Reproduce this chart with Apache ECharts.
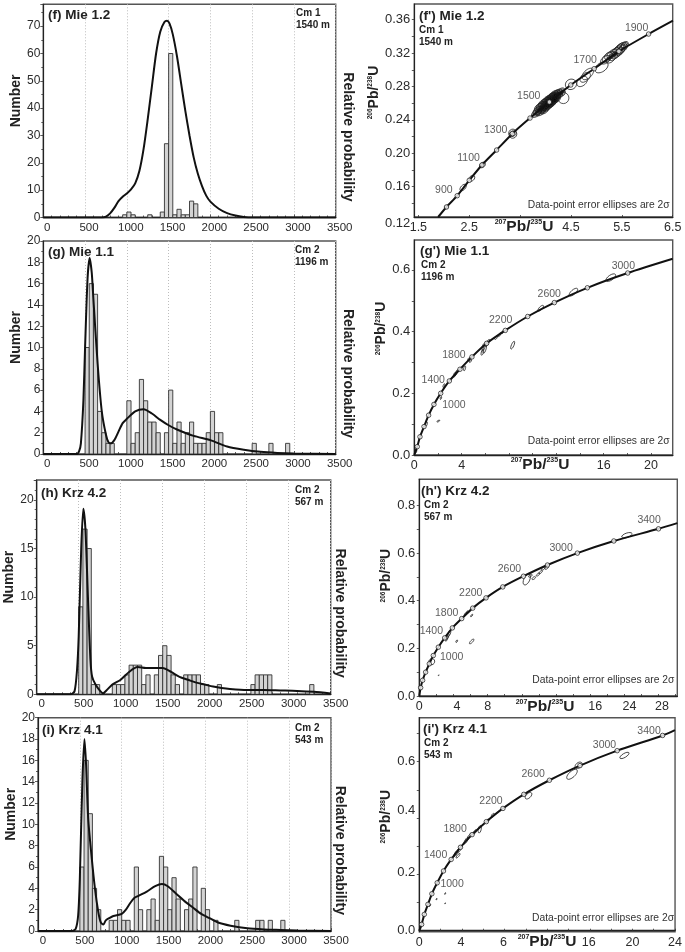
<!DOCTYPE html>
<html><head><meta charset="utf-8">
<style>html,body{margin:0;padding:0;background:#fff}#c{width:685px;height:952px}</style>
<script src="https://cdn.jsdelivr.net/npm/echarts@6/dist/echarts.min.js"></script>
</head><body><div id="c"></div>
<script>
// ---------- histogram bins (Ma, left edge) and counts ----------
const binWidth=50;
const fBins=[950,1000,1050,1250,1400,1450,1500,1550,1600,1650,1700,1750,1800];
const fCounts=[1,2,1,1,2,27,60,1,3,1,1,6,5];
const gBins=[500,550,600,650,700,750,800,1000,1050,1100,1150,1200,1250,1300,1350,1450,1500,1550,1600,1650,1700,1750,1800,1850,1900,1950,2000,2050,2100,2500,2700,2900];
const gCounts=[10,16,15,4,2,1,1,5,1,2,7,5,3,3,2,2,6,1,3,1,2,3,1,1,1,2,4,2,2,1,1,1];
const hBins=[500,550,600,650,700,900,950,1000,1050,1100,1150,1200,1250,1300,1400,1450,1500,1550,1600,1650,1750,1800,1850,1900,1950,2000,2150,2550,2600,2650,2700,2750,3250];
const hCounts=[9,17,15,1,1,1,1,1,2,3,3,3,1,2,2,4,5,4,2,1,2,2,2,2,1,1,1,1,2,2,2,2,1];
const iBins=[500,550,600,650,700,850,900,950,1000,1050,1150,1200,1300,1350,1400,1450,1500,1550,1600,1650,1750,1800,1850,1950,2000,2100,2350,2600,2650,2750,2900];
const iCounts=[6,16,11,4,2,1,1,2,1,1,6,2,2,3,1,7,6,2,5,3,2,3,6,4,2,1,1,1,1,1,1];
// ---------- probability curves [age, scaled height] ----------
const fCurve=[[0,0],[700,0],[750,.3],[800,1.5],[850,3.5],[900,6],[950,7.6],[1000,8.8],[1050,10.3],[1100,12.5],[1150,17],[1200,25],[1250,36],[1300,48],[1350,60],[1400,68],[1450,71.5],[1480,72],[1510,71],[1550,67],[1600,59],[1650,49],[1700,39],[1750,30],[1800,22],[1850,16],[1900,11.5],[1950,8],[2000,5.8],[2100,3.2],[2200,1.6],[2300,.7],[2400,.2],[2500,0],[3500,0]];
const gCurve=[[0,0],[400,0],[430,.3],[450,1],[480,5],[500,10],[530,16.5],[555,18.4],[580,17],[600,14.5],[650,8.5],[700,4],[750,1.8],[780,1.1],[810,1],[850,1.3],[900,2.1],[950,2.9],[1000,3.3],[1100,4],[1200,4.2],[1300,3.8],[1400,3.2],[1500,2.7],[1600,2.3],[1800,1.7],[2000,1.3],[2200,.7],[2400,.4],[2600,.2],[2800,.1],[3000,.05],[3500,0]];
const hCurve=[[0,0],[400,0],[450,.3],[480,2.5],[500,6],[530,15],[555,19.1],[580,17],[610,10],[640,3.5],[660,1.8],[700,1],[750,.4],[790,.1],[830,.4],[900,1],[1000,1.5],[1100,2.3],[1200,2.8],[1300,2.7],[1400,2.7],[1500,2.7],[1600,2.3],[1700,1.8],[1800,1.5],[1900,1.2],[2000,1],[2100,.8],[2200,.65],[2300,.55],[2500,.45],[2700,.45],[2900,.4],[3100,.35],[3300,.25],[3500,.08]];
const iCurve=[[0,0],[400,0],[450,.2],[480,1.5],[500,5],[530,14],[555,18],[575,15.5],[600,10.5],[640,7],[680,4],[720,1.8],[750,.8],[780,.6],[810,1],[850,1.2],[900,1.4],[1000,1.6],[1050,2],[1100,2.6],[1150,3.1],[1200,3.3],[1300,3.7],[1400,4.2],[1480,4.4],[1550,4.2],[1650,3.5],[1750,2.8],[1850,2.2],[1950,1.6],[2050,1.2],[2150,.8],[2300,.5],[2500,.25],[2700,.15],[2900,.1],[3100,.05],[3500,0]];
// ---------- concordia curves [207Pb/235U, 206Pb/238U]; inner points are the age ticks ----------
const fConc=[[1.889,.1237],[2.053,.1357],[2.264,.1492],[2.5,.1676],[2.75,.186],[3.038,.2039],[3.347,.2235],[3.695,.2422],[4.076,.2614],[4.496,.2818],[4.956,.3013],[5.442,.3221],[6.026,.3428],[6.505,.3588]];
const gConc=[[0,0],[.25,.027],[.48,.059],[.82,.092],[1.21,.129],[1.66,.164],[2.23,.2],[2.96,.24],[3.86,.278],[4.87,.318],[6.11,.362],[7.69,.404],[9.58,.449],[11.83,.494],[14.62,.542],[18.03,.59],[21.83,.636]];
const hConc=[[0,0],[.16,.035],[.39,.066],[.74,.1],[1.17,.135],[1.64,.17],[2.23,.205],[2.97,.244],[3.87,.286],[4.96,.325],[6.25,.369],[7.81,.412],[9.77,.458],[12.19,.503],[15,.55],[18.5,.6],[22.77,.651],[28,.702],[30.2,.726]];
const iConc=[[0,0],[.22,.0225],[.47,.058],[.81,.0935],[1.18,.131],[1.68,.17],[2.27,.212],[2.99,.253],[3.86,.296],[4.95,.341],[6.29,.387],[7.85,.434],[9.81,.484],[12.21,.534],[15.08,.586],[18.57,.639],[22.83,.693],[23.99,.712]];
// ---------- error ellipses [x, y, major semi-axis dx, dy, minor/major] ----------
const fCluster=[[3.82,.248,.09,.004,.55],[3.85,.251,.09,.004,.6],[3.88,.255,.09,.004,.6],[3.9,.25,.09,.004,.6],[3.92,.257,.09,.004,.6],[3.94,.253,.09,.004,.6],[3.95,.26,.08,.004,.6],[3.97,.256,.09,.004,.6],[3.98,.252,.08,.004,.6],[4,.262,.08,.004,.6],[4.01,.258,.09,.004,.6],[4.02,.255,.08,.004,.6],[4.03,.264,.08,.004,.6],[4.05,.26,.09,.004,.6],[4.06,.257,.08,.004,.6],[4.07,.265,.08,.004,.6],[4.08,.262,.09,.004,.6],[4.09,.259,.08,.004,.6],[4.1,.267,.08,.004,.6],[4.11,.263,.09,.004,.6],[4.12,.26,.08,.004,.6],[4.13,.268,.08,.004,.6],[4.14,.265,.09,.004,.6],[4.15,.262,.08,.004,.6],[4.16,.27,.08,.004,.6],[4.17,.266,.09,.004,.6],[4.18,.264,.08,.004,.6],[4.2,.271,.08,.004,.6],[4.21,.268,.08,.004,.6],[4.22,.265,.07,.0035,.6],[4.24,.272,.08,.004,.6],[4.26,.269,.07,.0035,.6],[4.3,.274,.07,.0035,.6],[4.33,.272,.05,.003,.7]];
const fEll=[[2.05,.1357,.03,.0016,.7],[2.38,.159,.055,.0035,.55],[2.55,.17,.05,.0028,.7],[2.76,.186,.05,.0026,.7],[3.35,.2245,.06,.003,.9],[3.36,.2225,.06,.003,.9],
[4.35,.2662,.11,.0,1],[4.5,.2826,.1,.003,.9],[4.72,.286,.09,.005,.65],[4.78,.291,.09,.005,.6],[4.83,.295,.1,.006,.55],[5.1,.303,.12,.005,.6],
[5.18,.312,.09,.004,.6],[5.22,.315,.09,.005,.55],[5.26,.317,.09,.004,.6],[5.28,.313,.08,.004,.6],[5.31,.319,.09,.005,.55],[5.33,.316,.08,.004,.6],[5.36,.321,.09,.005,.5],[5.38,.318,.08,.004,.6],[5.4,.323,.09,.005,.5],[5.42,.32,.08,.004,.6],[5.44,.325,.09,.005,.5],[5.46,.322,.08,.004,.6],[5.47,.327,.08,.004,.6],[5.49,.324,.08,.005,.5],[5.5,.328,.08,.004,.6],[5.52,.326,.08,.004,.6],[5.54,.328,.07,.004,.6],[5.56,.33,.06,.003,.7]];
const gEll=[[16.6,.575,.39,.0103,.45],[13.44,.528,.34,.0113,.42],[10.68,.476,.22,.0086,.4],[8.31,.356,.14,.0125,.3],[5.75,.333,.07,.0095,.35],[5.95,.345,.1,.015,.3],[5.85,.35,.08,.012,.35],[6.1,.36,.1,.008,.5],[6.25,.368,.12,.006,.5],[6.9,.38,.1,.005,.5],[7.2,.39,.1,.006,.4],[7.45,.398,.1,.004,.5],[4.25,.281,.05,.008,.35],[4.6,.31,.08,.006,.4],[4.75,.305,.08,.005,.4],[3.4,.26,.08,.008,.35],[3.5,.264,.07,.007,.35],[3.6,.27,.07,.007,.35],[2.03,.11,.12,.0025,.4],[2.25,.185,.04,.005,.4],[2.5,.225,.06,.006,.35],[1.0,.1,.07,.008,.4],[.1,.012,.05,.006,.6]];
const hEll=[[12.58,.489,.3,.022,.5],[24.3,.675,.6,.0075,.4],[6.13,.229,.25,.0095,.35],[4.38,.23,.08,.005,.5],[6.13,.338,.12,.005,.4],[13,.505,.2,.005,.5],[13.4,.495,.2,.005,.5],[13.9,.51,.2,.006,.4],[14.2,.52,.2,.006,.4],[14.5,.535,.2,.005,.5],[14.9,.538,.2,.005,.5],[3.3,.25,.15,.012,.35],[3.5,.262,.15,.012,.35],[3.2,.24,.12,.01,.35],[5.4,.345,.12,.006,.35],[5.6,.352,.1,.006,.35],[1.45,.144,.22,.011,.9],[2.27,.087,.04,.002,.4]];
const iEll=[[14.33,.555,.46,.016,.45],[14.95,.587,.3,.009,.65],[19.25,.622,.42,.0095,.38],[10.25,.479,.28,.01,.55],[5.67,.36,.07,.013,.4],[3.64,.266,.18,.008,.3],[3.45,.275,.2,.012,.3],[3.8,.29,.2,.012,.3],[4.4,.32,.2,.012,.3],[4.7,.335,.18,.01,.3],[5.2,.35,.15,.008,.4],[6.4,.39,.12,.006,.5],[6.9,.41,.12,.006,.5],[1.62,.112,.03,.003,.4],[2.43,.132,.04,.003,.4],[2.43,.097,.03,.002,.4],[1.0,.09,.06,.004,.4]];
// ---------- age annotations [x, y, label] ----------
const fAges=[[2.0,.1557,'900'],[2.487,.194,'1100'],[3.02,.2275,'1300'],[3.67,.269,'1500'],[4.78,.312,'1700'],[5.79,.35,'1900']];
const gAges=[[3.35,.162,'1000'],[1.6,.243,'1400'],[3.35,.324,'1800'],[7.3,.437,'2200'],[11.4,.523,'2600'],[17.66,.613,'3000']];
const hAges=[[3.79,.165,'1000'],[1.41,.272,'1400'],[3.2,.346,'1800'],[6.02,.43,'2200'],[10.55,.531,'2600'],[16.6,.619,'3000'],[26.9,.74,'3400']];
const iAges=[[3.08,.166,'1000'],[1.53,.267,'1400'],[3.36,.36,'1800'],[6.73,.46,'2200'],[10.69,.557,'2600'],[17.38,.659,'3000'],[21.56,.71,'3400']];
// ---------- tick labels on the concordia panels (positions follow the reference's irregular placing) ----------
const gxTicks=[0,4,16,20], gxLabels=['0','4','16','20'];
const hxTicks=[0,4.4,8,20.6,24.6,28.4], hxLabels=['0','4','8','16','24','28'];
const ixTicks=[0,3.9,7.9,15.9,20,24], ixLabels=['0','4','6','16','20','24'];
const iyTicks=[0,.206,.427,.6], iyLabels=['0.0','0.2','0.4','0.6'];

const FONT='"Liberation Sans",Arial,sans-serif', INK='#2b2b2b';
const grids=[],xAxes=[],yAxes=[],series=[],titles=[];

function addTitle(text,left,top,size){titles.push({text,left,top,padding:0,itemGap:0,textStyle:{fontFamily:FONT,fontSize:size,fontWeight:'bold',color:'#222',lineHeight:Math.round(size*1.2)}});}

function barItem(params,api){
  const a=api.coord([api.value(0),api.value(1)]);
  const b=api.coord([api.value(0)+binWidth,0]);
  return {type:'rect',shape:{x:a[0],y:a[1],width:b[0]-a[0],height:b[1]-a[1]},style:{fill:'#d3d3d3',stroke:'#333',lineWidth:.9}};
}

function histPanel(o){
  const gi=grids.length;
  grids.push({left:o.x0,top:o.y0,width:o.x1-o.x0,height:o.y1-o.y0,show:true,borderColor:'#555',borderWidth:1.4,backgroundColor:'#fff',containLabel:false});
  const xv=xAxes.length;
  xAxes.push({gridIndex:gi,type:'value',min:0,max:3500,interval:500,position:'bottom',
    axisLine:{show:true,lineStyle:{color:'#222',width:1.4}},
    axisTick:{show:true,inside:true,length:3,lineStyle:{color:'#333',width:.8}},
    minorTick:{show:true,splitNumber:5,length:2,lineStyle:{color:'#333',width:.8}},
    splitLine:{show:true,lineStyle:{type:[1,2],color:'#bdbdbd',width:1}},
    axisLabel:{fontFamily:FONT,fontSize:11.5,color:INK,margin:4,padding:[0,0,0,o.pad],formatter:v=>String(v),hideOverlap:false,showMinLabel:true,showMaxLabel:true}});
  const yl=yAxes.length;
  yAxes.push({gridIndex:gi,type:'value',min:0,max:o.ymax,interval:o.yint,position:'left',
    name:'Number',nameLocation:'middle',nameGap:o.nameGap,nameRotate:90,
    nameTextStyle:{fontFamily:FONT,fontSize:14,fontWeight:'bold',color:'#222',padding:[0,0,0,20]},
    axisLine:{show:true,lineStyle:{color:'#222',width:1.2}},
    axisTick:{show:true,length:3,lineStyle:{color:'#333',width:.8}},
    minorTick:{show:true,splitNumber:o.yminor,length:2,lineStyle:{color:'#333',width:.8}},
    splitLine:{show:false},
    axisLabel:{fontFamily:FONT,fontSize:12,color:INK,margin:3,showMaxLabel:o.topLabel,hideOverlap:false}});
  const yr=yAxes.length;
  yAxes.push({gridIndex:gi,type:'value',min:0,max:o.ymax,position:'right',
    name:'Relative probability',nameLocation:'middle',nameGap:o.rGap,nameRotate:-90,
    nameTextStyle:{fontFamily:FONT,fontSize:14,fontWeight:'bold',color:'#222',padding:[0,0,0,52]},
    axisLine:{show:false},axisTick:{show:false},axisLabel:{show:false},splitLine:{show:false}});
  series.push({type:'custom',xAxisIndex:xv,yAxisIndex:yl,data:o.bins.map((b,k)=>[b,o.counts[k]]),renderItem:barItem,silent:true,animation:false,clip:true,z:3,encode:{x:0,y:1}});
  series.push({type:'line',xAxisIndex:xv,yAxisIndex:yl,data:o.curve,smooth:.25,showSymbol:false,symbol:'none',silent:true,animation:false,z:5,
    lineStyle:{color:'#111',width:2}});
  addTitle(o.title,o.tx,o.ty,13.5);
  addTitle('Cm '+o.cm,o.cx,o.cy,10);
  addTitle(o.depth,o.cx,o.cy+12,10);
}

function ellipseItem(fill){
  return function(params,api){
    const c=api.coord([api.value(0),api.value(1)]);
    const s=api.size([api.value(2),api.value(3)]);
    const a=Math.hypot(s[0],s[1]);
    return {type:'ellipse',x:c[0],y:c[1],rotation:Math.atan2(s[1],s[0]),
      shape:{cx:0,cy:0,rx:a,ry:a*api.value(4)},
      style:{fill,stroke:'#222',lineWidth:.75}};
  };
}

function concPanel(o){
  const gi=grids.length;
  grids.push({left:o.x0,top:o.y0,width:o.x1-o.x0,height:o.y1-o.y0,show:true,borderColor:'#555',borderWidth:1.4,backgroundColor:'#fff'});
  const xi=xAxes.length,yi=yAxes.length;
  const xLab=o.xLabels?(v=>{const k=o.xTicks.indexOf(v);return k<0?'':o.xLabels[k];}):(v=>String(v));
  xAxes.push({gridIndex:gi,type:'value',min:o.xmin,max:o.xmax,position:'bottom',
    axisLine:{show:true,lineStyle:{color:'#222',width:1.4}},
    axisTick:{show:true,inside:true,length:2,customValues:o.xTickMarks,lineStyle:{color:'#333',width:.8}},
    splitLine:{show:false},
    axisLabel:{fontFamily:FONT,fontSize:12.5,color:INK,margin:4,customValues:o.xTicks,formatter:xLab,hideOverlap:false,showMinLabel:true,showMaxLabel:true}});
  const yLab=o.yLabels?(v=>{const k=o.yTicks.indexOf(v);return k<0?'':o.yLabels[k];}):(v=>v.toFixed(o.yDec));
  yAxes.push({gridIndex:gi,type:'value',min:o.ymin,max:o.ymax,position:'left',
    name:'{s|206}{b|Pb/}{s|238}{b|U}',nameLocation:'middle',nameGap:o.nameGap,nameRotate:90,
    nameTextStyle:{padding:[0,0,0,o.namePad],rich:{b:{fontFamily:FONT,fontSize:14,fontWeight:'bold',color:'#222'},s:{fontFamily:FONT,fontSize:6.5,fontWeight:'bold',color:'#222',verticalAlign:'top'}}},
    axisLine:{show:true,lineStyle:{color:'#222',width:1.2}},
    axisTick:{show:true,length:2.5,customValues:o.yTickMarks,lineStyle:{color:'#333',width:.8}},
    splitLine:{show:false},
    axisLabel:{fontFamily:FONT,fontSize:13,color:INK,margin:4,customValues:o.yTicks,formatter:yLab,hideOverlap:false,showMinLabel:true,showMaxLabel:true,verticalAlignMinLabel:o.yMinAlign}});
  if(o.cluster)series.push({type:'custom',xAxisIndex:xi,yAxisIndex:yi,data:o.cluster,renderItem:ellipseItem('rgba(0,0,0,0.3)'),silent:true,animation:false,clip:true,z:3,encode:{x:0,y:1}});
  series.push({type:'custom',xAxisIndex:xi,yAxisIndex:yi,data:o.ell,renderItem:ellipseItem('none'),silent:true,animation:false,clip:true,z:3,encode:{x:0,y:1}});
  series.push({type:'line',xAxisIndex:xi,yAxisIndex:yi,data:o.conc,smooth:.25,symbol:'none',showSymbol:false,silent:true,animation:false,clip:true,z:4,lineStyle:{color:'#111',width:2}});
  series.push({type:'scatter',xAxisIndex:xi,yAxisIndex:yi,data:o.conc.slice(1,-1),symbol:'circle',symbolSize:4.5,silent:true,animation:false,z:6,itemStyle:{color:'#fff',borderColor:'#111',borderWidth:.9}});
  series.push({type:'scatter',xAxisIndex:xi,yAxisIndex:yi,data:o.ages,symbolSize:0,silent:true,animation:false,z:7,
    label:{show:true,position:'inside',formatter:p=>p.value[2],fontFamily:FONT,fontSize:10.5,color:'#333'}});
  addTitle(o.title,o.tx,o.ty,13.5);
  addTitle('Cm '+o.cm,o.cx,o.cy,10);
  addTitle(o.depth,o.cx,o.cy+12,10);
  titles.push({text:'Data-point error ellipses are 2σ',right:685-o.x1+o.noteRight,top:o.noteY,padding:0,textStyle:{fontFamily:FONT,fontSize:10.3,fontWeight:'normal',color:'#333'}});
  titles.push({text:'{s|207}{b|Pb/}{s|235}{b|U}',left:o.nx,top:o.ny,textAlign:'center',padding:0,textStyle:{rich:{b:{fontFamily:FONT,fontSize:15.5,fontWeight:'bold',color:'#222'},s:{fontFamily:FONT,fontSize:7,fontWeight:'bold',color:'#222',verticalAlign:'top'}}}});
}

histPanel({x0:43.3,x1:335.7,y0:4.3,y1:217.5,ymax:78,yint:10,yminor:2,topLabel:false,pad:8,bins:fBins,counts:fCounts,curve:fCurve,nameGap:19,rGap:5,title:'(f) Mie 1.2',tx:48,ty:7,cm:'1',depth:'1540 m',cx:296,cy:7});
histPanel({x0:43.3,x1:335.7,y0:241,y1:454,ymax:20,yint:2,yminor:2,topLabel:true,pad:8,bins:gBins,counts:gCounts,curve:gCurve,nameGap:20,rGap:5,title:'(g) Mie 1.1',tx:48,ty:244,cm:'2',depth:'1196 m',cx:295,cy:244});
histPanel({x0:36.7,x1:330.7,y0:480,y1:694.3,ymax:22.05,yint:5,yminor:5,topLabel:false,pad:10,bins:hBins,counts:hCounts,curve:hCurve,nameGap:20,rGap:2,title:'(h) Krz 4.2',tx:41,ty:485,cm:'2',depth:'567 m',cx:295,cy:484});
histPanel({x0:38,x1:331,y0:717.7,y1:931,ymax:20,yint:2,yminor:2,topLabel:true,pad:10,bins:iBins,counts:iCounts,curve:iCurve,nameGap:20,rGap:2,title:'(i) Krz 4.1',tx:42,ty:722,cm:'2',depth:'543 m',cx:295,cy:722});

concPanel({x0:414.3,x1:672.7,y0:4,y1:217,xmin:1.42,xmax:6.5,ymin:.1237,ymax:.3788,xTicks:[1.5,2.5,4.5,5.5,6.5],xTickMarks:[1.5,2.5,3.5,4.5,5.5,6.5],yTicks:[.1237,.16,.2,.24,.28,.32,.36],yTickMarks:[.14,.16,.18,.2,.22,.24,.26,.28,.3,.32,.34,.36],yDec:2,yMinAlign:'top',conc:fConc,ell:fEll,cluster:fCluster,ages:fAges,nameGap:22,namePad:36,title:"(f') Mie 1.2",tx:419,ty:8,cm:'1',depth:'1540 m',cx:419,cy:24,noteRight:3,noteY:200,nx:524,ny:219});
concPanel({x0:414.3,x1:672.7,y0:240,y1:455,xmin:0,xmax:21.83,ymin:0,ymax:.697,xTicks:gxTicks,xLabels:gxLabels,xTickMarks:[0,2,4,6,8,10,12,14,16,18,20],yTicks:[0,.2,.4,.6],yTickMarks:[0,.1,.2,.3,.4,.5,.6],yDec:1,conc:gConc,ell:gEll,ages:gAges,nameGap:24,namePad:38,title:"(g') Mie 1.1",tx:420,ty:243,cm:'2',depth:'1196 m',cx:421,cy:259,noteRight:3,noteY:436,nx:540,ny:457});
concPanel({x0:419.3,x1:677.3,y0:479.3,y1:696,xmin:0,xmax:30.2,ymin:0,ymax:.91,xTicks:hxTicks,xLabels:hxLabels,xTickMarks:[0,2,4,6,8,10,12,14,16,18,20,22,24,26,28,30],yTicks:[0,.2,.4,.6,.8],yTickMarks:[0,.1,.2,.3,.4,.5,.6,.7,.8],yDec:1,conc:hConc,ell:hEll,ages:hAges,nameGap:25,namePad:24,title:"(h') Krz 4.2",tx:421,ty:483,cm:'2',depth:'567 m',cx:424,cy:499,noteRight:3,noteY:675,nx:545,ny:699});
concPanel({x0:419.3,x1:676,y0:717.7,y1:931.7,xmin:0,xmax:24,ymin:-.0035,ymax:.756,xTicks:ixTicks,xLabels:ixLabels,xTickMarks:[0,2,4,6,8,10,12,14,16,18,20,22,24],yTicks:iyTicks,yLabels:iyLabels,yTickMarks:[.1,.2,.3,.4,.5,.6,.7],yDec:1,conc:iConc,ell:iEll,ages:iAges,nameGap:24,namePad:16,title:"(i') Krz 4.1",tx:423,ty:721,cm:'2',depth:'543 m',cx:424,cy:737,noteRight:2,noteY:913,nx:547,ny:934});

const chart=echarts.init(document.getElementById('c'),null,{renderer:'canvas'});
chart.setOption({backgroundColor:'#fff',animation:false,title:titles,grid:grids,xAxis:xAxes,yAxis:yAxes,series:series,tooltip:{show:false},legend:{show:false}});
</script></body></html>
